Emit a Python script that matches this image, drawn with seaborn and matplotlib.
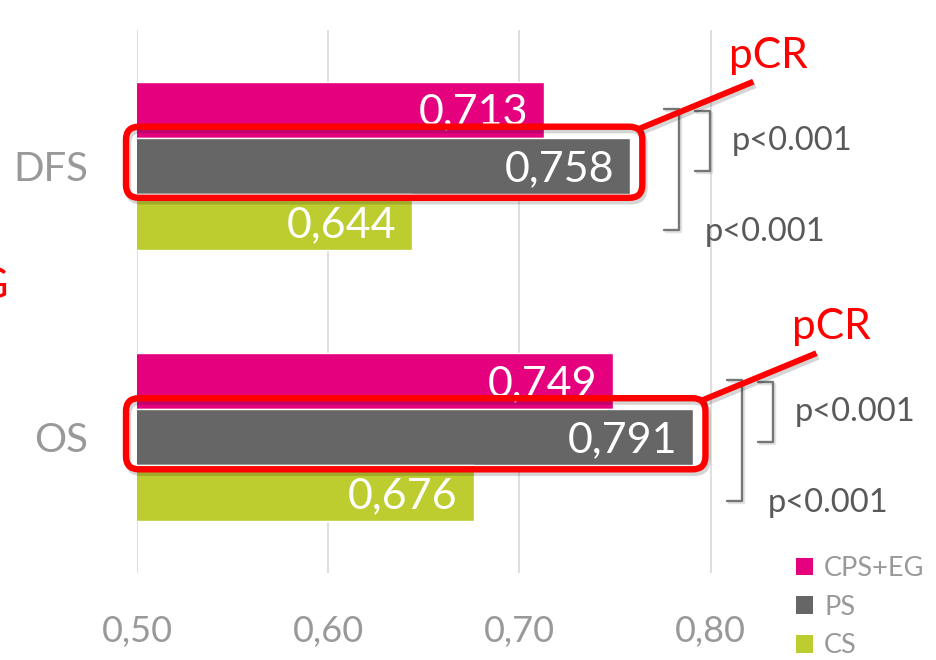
import numpy as np
import pandas as pd
import seaborn as sns
import matplotlib
matplotlib.use("Agg")
import matplotlib.pyplot as plt
from matplotlib.patches import FancyBboxPatch, Patch
from matplotlib.lines import Line2D
import matplotlib.transforms as mtransforms
import matplotlib.patheffects as pe

# ---- data ----
measures = ["DFS", "OS"]
groups = ["CPS+EG", "PS", "CS"]
cps_eg = [0.713, 0.749]
ps = [0.758, 0.791]
cs = [0.644, 0.676]
x_ticks = [0.50, 0.60, 0.70, 0.80]
x_tick_labels = ["0,50", "0,60", "0,70", "0,80"]
p_ps_vs_cpseg = ["p<0.001", "p<0.001"]
p_ps_vs_cs = ["p<0.001", "p<0.001"]
highlight_label = "pCR"
colors = ["#E5007E", "#666666", "#BDCC2E"]

df = pd.DataFrame({
    "measure": measures * 3,
    "group": np.repeat(groups, len(measures)),
    "value": cps_eg + ps + cs,
})

sns.set_theme(style="white")
plt.rcParams["font.family"] = ["Lato", "DejaVu Sans"]

W, H = 936, 660
fig = plt.figure(figsize=(W / 100, H / 100), dpi=100)
ax = fig.add_axes([137 / W, 1 - 573 / H, (768 - 137) / W, (573 - 30) / H])

sns.barplot(data=df, x="value", y="measure", hue="group", hue_order=groups,
            order=measures, palette=colors, orient="h", width=0.62,
            saturation=1, errorbar=None, ax=ax)

ax.set_xlim(0.5, 0.83)
ax.set_ylim(1.5, -0.5)
ax.set_xticks(x_ticks, x_tick_labels)
ax.set_xlabel("")
ax.set_ylabel("")
ax.grid(axis="x", color="#d9d9d9", lw=1.2)
ax.grid(axis="y", visible=False)
ax.set_axisbelow(True)
for s in ax.spines.values():
    s.set_visible(False)
ax.tick_params(axis="x", labelsize=26, colors="#999999", pad=30, length=0)
ax.tick_params(axis="y", labelsize=29, colors="#999999", pad=35, length=0)

# legend
ax.get_legend().remove()
handles = [Patch(facecolor=c, edgecolor="none") for c in colors]
fig.legend(handles, groups, loc="upper left", bbox_to_anchor=(796 / W, 1 - 556 / H),
           frameon=False, fontsize=19.5, labelcolor="#999999", handlelength=0.64,
           handleheight=0.64, handletextpad=0.4, labelspacing=0.5,
           borderpad=0, borderaxespad=0)

# value labels inside the bar ends
for cont, vals in zip(ax.containers, [cps_eg, ps, cs]):
    for bar, v in zip(cont, vals):
        ax.annotate(f"{v:.3f}".replace(".", ","),
                    xy=(v, bar.get_y() + bar.get_height() / 2),
                    xytext=(-16, -3), textcoords="offset pixels",
                    ha="right", va="center", color="white", fontsize=31, zorder=5)

ident = mtransforms.IdentityTransform()
red = "#FF0000"
box_shadow = [pe.SimpleLineShadow(offset=(1.5, -2.5), shadow_color="k", alpha=0.18),
              pe.Normal()]
bracket_shadow = [pe.SimpleLineShadow(offset=(1, -1.5), shadow_color="k", alpha=0.12),
                  pe.Normal()]


def to_px(x, y):
    return ax.transData.transform((x, y))


def bar_center_px(container, i):
    b = container[i]
    return to_px(b.get_width(), b.get_y() + b.get_height() / 2)


for i, m in enumerate(measures):
    gbar = ax.containers[1][i]
    left, top = to_px(0.5, gbar.get_y())
    right, bottom = to_px(gbar.get_width(), gbar.get_y() + gbar.get_height())
    bx0, bx1 = left - 11, right + 12
    by0, by1 = bottom - 4, top + 11
    box = FancyBboxPatch((bx0, by0), bx1 - bx0, by1 - by0,
                         boxstyle="round,pad=0,rounding_size=13",
                         fill=False, ec=red, lw=4.6, transform=ident,
                         zorder=6, clip_on=False, path_effects=box_shadow)
    ax.add_artist(box)

    # callout line and label
    sx, sy = bx1 - 3, by1 - 2
    ex, ey = sx + 114, sy + 47
    ax.add_artist(Line2D([sx, ex], [sy, ey], color=red, lw=4.3, transform=ident,
                         zorder=6, clip_on=False, solid_capstyle="butt",
                         path_effects=box_shadow))
    ax.text(ex + 15, ey + 26, highlight_label, transform=ident, color=red,
            fontsize=30.5, ha="center", va="center", zorder=6)

    # significance brackets
    _, y_top = bar_center_px(ax.containers[0], i)
    _, y_mid = bar_center_px(ax.containers[1], i)
    _, y_bot = bar_center_px(ax.containers[2], i)

    xs = right + 80
    ys0, ys1 = y_top - 1, y_mid - 5
    ax.add_artist(Line2D([xs - 15, xs, xs, xs - 15], [ys0, ys0, ys1, ys1],
                         color="#767676", lw=1.7, transform=ident, clip_on=False,
                         path_effects=bracket_shadow, zorder=4))
    ax.text(xs + 21, (ys0 + ys1) / 2, p_ps_vs_cpseg[i], transform=ident,
            color="#595959", fontsize=23.5, ha="left", va="center")

    xl = right + 49
    yl0, yl1 = y_top + 1, y_bot - 8
    ax.add_artist(Line2D([xl - 15, xl, xl, xl - 15], [yl0, yl0, yl1, yl1],
                         color="#767676", lw=1.7, transform=ident, clip_on=False,
                         path_effects=bracket_shadow, zorder=4))
    ax.text(xl + 25, yl1 - 2, p_ps_vs_cs[i], transform=ident,
            color="#595959", fontsize=23.5, ha="left", va="center")

# trailing edge of a side caption
fig.text(9 / W, 1 - 286 / H, "EG", ha="right", va="center", color=red, fontsize=30)

fig.savefig("out.png", dpi=100)
